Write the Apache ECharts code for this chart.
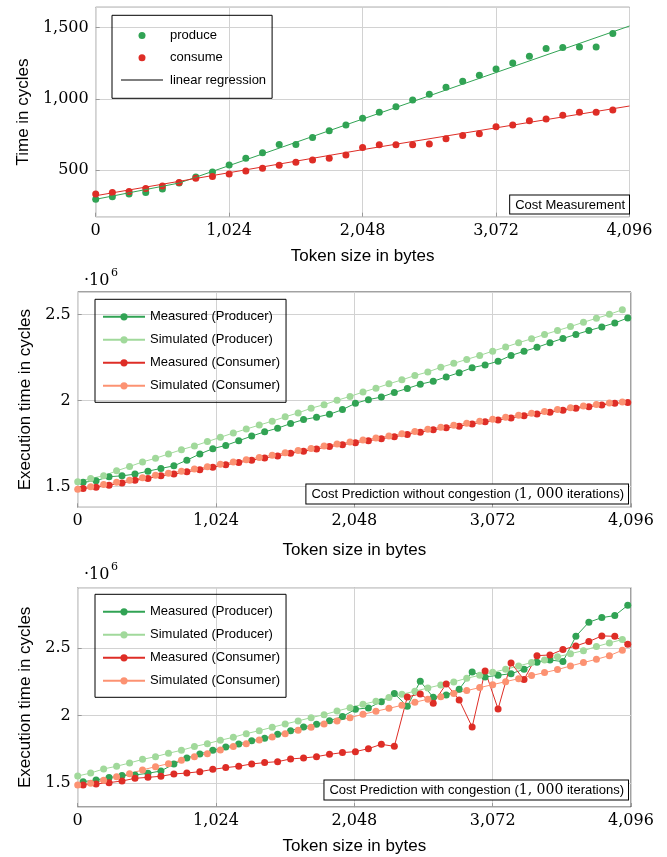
<!DOCTYPE html>
<html>
<head>
<meta charset="utf-8">
<script src="https://cdn.jsdelivr.net/npm/echarts@6/dist/echarts.min.js"></script>
<style>
html, body { margin: 0; padding: 0; background: #fff; }
#main { width: 667px; height: 857px; }
</style>
</head>
<body>
<div id="main"></div>
<script>
// panel 1: cost measurement (cycles)
var sizes1 = [0, 128, 256, 384, 512, 640, 768, 896, 1024, 1152, 1280, 1408, 1536, 1664, 1792, 1920,
    2048, 2176, 2304, 2432, 2560, 2688, 2816, 2944, 3072, 3200, 3328, 3456, 3584, 3712, 3840, 3968];
var produce = [297, 315, 334, 344, 369, 411, 453, 488, 537, 584, 624, 682, 682, 731, 778, 818,
    865, 907, 946, 993, 1033, 1082, 1124, 1166, 1210, 1252, 1299, 1355, 1362, 1364, 1364, 1460];
var consume = [334, 344, 351, 372, 390, 414, 444, 456, 474, 495, 514, 535, 556, 573, 584, 608,
    661, 680, 680, 680, 685, 722, 745, 757, 806, 818, 848, 860, 886, 907, 907, 923];
// regression lines (end points)
var regProduce = [[0, 297], [640, 411], [4096, 1512]];
var regConsume = [[0, 322], [2048, 645], [4096, 951]];

// panels 2 + 3: token sizes of simulated and measured runs
var simSizes = [0, 96, 192, 288, 384, 480, 576, 672, 768, 864, 960, 1056, 1152, 1248, 1344, 1440,
    1536, 1632, 1728, 1824, 1920, 2016, 2112, 2208, 2304, 2400, 2496, 2592, 2688, 2784, 2880, 2976,
    3072, 3168, 3264, 3360, 3456, 3552, 3648, 3744, 3840, 3936, 4032];
var measSizes = [40, 136, 232, 328, 424, 520, 616, 712, 808, 904, 1000, 1096, 1192, 1288, 1384, 1480,
    1576, 1672, 1768, 1864, 1960, 2056, 2152, 2248, 2344, 2440, 2536, 2632, 2728, 2824, 2920, 3016,
    3112, 3208, 3304, 3400, 3496, 3592, 3688, 3784, 3880, 3976, 4072];

// panel 2: without congestion (10^6 cycles)
var measProd2 = [1.525, 1.535, 1.558, 1.563, 1.573, 1.590, 1.606, 1.621, 1.654, 1.690, 1.721, 1.740, 1.767, 1.794, 1.819,
    1.840, 1.867, 1.890, 1.904, 1.921, 1.948, 1.985, 2.006, 2.021, 2.048, 2.071, 2.096, 2.113, 2.138, 2.163, 2.192,
    2.208, 2.229, 2.263, 2.287, 2.310, 2.337, 2.362, 2.385, 2.408, 2.429, 2.452, 2.481];
var simProd2 = [1.529, 1.548, 1.563, 1.592, 1.617, 1.644, 1.665, 1.690, 1.715, 1.737, 1.762, 1.787, 1.812, 1.835, 1.858,
    1.881, 1.906, 1.929, 1.956, 1.977, 2.002, 2.025, 2.050, 2.073, 2.098, 2.121, 2.146, 2.167, 2.194, 2.217, 2.240,
    2.263, 2.288, 2.312, 2.337, 2.360, 2.385, 2.408, 2.431, 2.456, 2.479, 2.502, 2.529];
var measCons2 = [1.490, 1.496, 1.508, 1.521, 1.537, 1.548, 1.563, 1.573, 1.587, 1.598, 1.613, 1.627, 1.640, 1.654, 1.667,
    1.679, 1.694, 1.706, 1.719, 1.733, 1.744, 1.756, 1.767, 1.779, 1.790, 1.804, 1.817, 1.831, 1.842, 1.852, 1.865,
    1.877, 1.888, 1.900, 1.912, 1.923, 1.933, 1.944, 1.956, 1.965, 1.975, 1.985, 1.990];
var simCons2 = [1.485, 1.500, 1.512, 1.525, 1.538, 1.552, 1.566, 1.578, 1.590, 1.602, 1.616, 1.630, 1.643, 1.657, 1.670,
    1.683, 1.697, 1.710, 1.722, 1.736, 1.748, 1.760, 1.772, 1.783, 1.795, 1.808, 1.821, 1.834, 1.846, 1.857, 1.869,
    1.881, 1.892, 1.904, 1.916, 1.927, 1.937, 1.948, 1.959, 1.969, 1.978, 1.987, 1.992];

// panel 3: with congestion (10^6 cycles)
var measProd3 = [1.512, 1.525, 1.542, 1.557, 1.562, 1.574, 1.591, 1.643, 1.687, 1.717, 1.744, 1.768, 1.791, 1.815, 1.833,
    1.862, 1.889, 1.916, 1.936, 1.963, 1.993, 2.047, 2.057, 2.103, 2.163, 2.069, 2.254, 2.135, 2.153, 2.195, 2.323,
    2.286, 2.298, 2.310, 2.342, 2.394, 2.411, 2.399, 2.586, 2.690, 2.724, 2.739, 2.815];
var simProd3 = [1.554, 1.576, 1.606, 1.626, 1.650, 1.677, 1.697, 1.722, 1.744, 1.771, 1.793, 1.818, 1.840, 1.867, 1.889,
    1.914, 1.938, 1.961, 1.985, 2.007, 2.034, 2.059, 2.084, 2.106, 2.133, 2.158, 2.180, 2.204, 2.227, 2.249, 2.276,
    2.298, 2.320, 2.342, 2.367, 2.392, 2.411, 2.434, 2.458, 2.480, 2.510, 2.537, 2.562];
var measCons3 = [1.488, 1.495, 1.505, 1.517, 1.537, 1.544, 1.552, 1.569, 1.576, 1.586, 1.603, 1.616, 1.626, 1.643, 1.653,
    1.660, 1.680, 1.687, 1.697, 1.714, 1.727, 1.734, 1.756, 1.788, 1.773, 2.138, 2.160, 2.091, 2.234, 2.116, 1.916,
    2.330, 2.049, 2.389, 2.266, 2.443, 2.448, 2.488, 2.515, 2.547, 2.589, 2.586, 2.527];
var simCons3 = [1.488, 1.500, 1.522, 1.549, 1.571, 1.599, 1.623, 1.645, 1.670, 1.697, 1.719, 1.746, 1.771, 1.793, 1.820,
    1.842, 1.867, 1.892, 1.914, 1.938, 1.961, 1.985, 2.010, 2.032, 2.054, 2.076, 2.099, 2.121, 2.140, 2.163, 2.185,
    2.207, 2.229, 2.251, 2.273, 2.296, 2.318, 2.340, 2.367, 2.392, 2.416, 2.443, 2.483];

var legendNames = ['Measured (Producer)', 'Simulated (Producer)', 'Measured (Consumer)', 'Simulated (Consumer)'];

var green = '#31a354', lightGreen = '#a1d99b', red = '#de2d26', salmon = '#fc9272';
var sans = 'Liberation Sans', serif = 'DejaVu Serif';

function zip(xs, ys) {
    return ys.map(function (y, i) { return [xs[i], y]; });
}

function xAxisFor(idx, gap) {
    return {
        type: 'value', gridIndex: idx, min: 0, max: 4096, interval: 1024,
        axisLine: { show: false },
        axisTick: { inside: true, length: 4, lineStyle: { color: '#999' } },
        splitLine: { lineStyle: { color: '#d2d2d2', width: 1 } },
        axisLabel: {
            margin: 6, color: '#000', fontFamily: serif, fontSize: 16,
            formatter: function (v) { return v.toLocaleString('en-US'); }
        },
        name: 'Token size in bytes', nameLocation: 'middle', nameGap: gap,
        nameTextStyle: { fontFamily: sans, fontSize: 17, color: '#000' }
    };
}

function yAxisFor(idx, min, max, name, gap, fmt) {
    return {
        type: 'value', gridIndex: idx, min: min, max: max, splitNumber: 3,
        axisLine: { show: false },
        axisTick: { inside: true, length: 4, lineStyle: { color: '#999' } },
        splitLine: { lineStyle: { color: '#d2d2d2', width: 1 } },
        axisLabel: {
            margin: 7, color: '#000', fontFamily: serif, fontSize: 16,
            showMinLabel: false, showMaxLabel: false, formatter: fmt
        },
        name: name, nameLocation: 'middle', nameGap: gap,
        nameTextStyle: { fontFamily: sans, fontSize: 17, color: '#000' }
    };
}

function lineSeries(name, idx, xs, ys, color) {
    return {
        name: name, type: 'line', xAxisIndex: idx, yAxisIndex: idx,
        data: zip(xs, ys), symbol: 'circle', symbolSize: 7,
        itemStyle: { color: color }, lineStyle: { color: color, width: 1 }
    };
}

function legendFor(top) {
    return {
        orient: 'vertical', left: 95, top: top, data: legendNames,
        itemWidth: 42, itemHeight: 9, itemGap: 10,
        padding: [11, 6, 10, 7], borderColor: '#000', borderWidth: 1,
        textStyle: { fontFamily: sans, fontSize: 13, color: '#000' }
    };
}

function boxText(text, right, cy) {
    return {
        type: 'text', z: 100, x: right, y: cy,
        style: {
            text: text, align: 'right', verticalAlign: 'middle',
            fontFamily: sans, fontSize: 13, fill: '#000',
            backgroundColor: '#fff', borderColor: '#000', borderWidth: 1, padding: [3, 4, 2, 5],
            rich: { m: { fontFamily: serif, fontSize: 14 } }
        }
    };
}

function powerLabel(y) {
    return [
        { type: 'text', x: 84, y: y, style: { text: '·10', fontFamily: serif, fontSize: 16, fill: '#000', verticalAlign: 'middle' } },
        { type: 'text', x: 111, y: y - 8, style: { text: '6', fontFamily: serif, fontSize: 11, fill: '#000', verticalAlign: 'middle' } }
    ];
}

var chart = echarts.init(document.getElementById('main'));
var option = {
    animation: false,
    grid: [
        { left: 95.7, top: 7.3, width: 533.8, height: 209.4, show: true, borderColor: '#444', borderWidth: 1 },
        { left: 77.7, top: 292, width: 553.3, height: 215.3, show: true, borderColor: '#444', borderWidth: 1 },
        { left: 77.7, top: 587.7, width: 553.3, height: 219.3, show: true, borderColor: '#444', borderWidth: 1 }
    ],
    xAxis: [xAxisFor(0, 31), xAxisFor(1, 35), xAxisFor(2, 31)],
    yAxis: [
        yAxisFor(0, 175, 1643, 'Time in cycles', 60, function (v) { return v.toLocaleString('en-US'); }),
        yAxisFor(1, 1.38, 2.632, 'Execution time in cycles', 44, function (v) { return String(v); }),
        yAxisFor(2, 1.325, 2.945, 'Execution time in cycles', 44, function (v) { return String(v); })
    ],
    legend: [
        {
            orient: 'vertical', left: 112, top: 15.3,
            data: [
                { name: 'produce', icon: 'circle' },
                { name: 'consume', icon: 'circle' },
                { name: 'linear regression', icon: 'path://M0,0L42,0L42,1L0,1Z' }
            ],
            itemWidth: 42, itemHeight: 7, itemGap: 9.3,
            padding: [13.6, 6, 11.8, 9], borderColor: '#000', borderWidth: 1,
            textStyle: { fontFamily: sans, fontSize: 13, color: '#000', padding: [0, 0, 0, 2] }
        },
        legendFor(299.3),
        legendFor(594.3)
    ],
    graphic: [
        boxText('Cost Measurement', 629, 204.5),
        boxText('Cost Prediction without congestion ({m|1, 000} iterations)', 628, 494),
        boxText('Cost Prediction with congestion ({m|1, 000} iterations)', 628, 790)
    ].concat(powerLabel(281), powerLabel(575)),
    series: [
        {
            name: 'fitProduce', type: 'line', xAxisIndex: 0, yAxisIndex: 0, data: regProduce,
            symbol: 'none', lineStyle: { color: green, width: 1 }, silent: true
        },
        {
            name: 'fitConsume', type: 'line', xAxisIndex: 0, yAxisIndex: 0, data: regConsume,
            symbol: 'none', lineStyle: { color: red, width: 1 }, silent: true
        },
        {
            name: 'produce', type: 'scatter', xAxisIndex: 0, yAxisIndex: 0,
            data: zip(sizes1, produce), symbolSize: 7, itemStyle: { color: green, opacity: 1 }
        },
        {
            name: 'consume', type: 'scatter', xAxisIndex: 0, yAxisIndex: 0,
            data: zip(sizes1, consume), symbolSize: 7, itemStyle: { color: red, opacity: 1 }
        },
        {
            name: 'linear regression', type: 'line', xAxisIndex: 0, yAxisIndex: 0, data: [],
            symbol: 'none', itemStyle: { color: '#000' }, lineStyle: { color: '#000', width: 1 }
        },

        lineSeries(legendNames[0], 1, measSizes, measProd2, green),
        lineSeries(legendNames[1], 1, simSizes, simProd2, lightGreen),
        lineSeries(legendNames[2], 1, measSizes, measCons2, red),
        lineSeries(legendNames[3], 1, simSizes, simCons2, salmon),

        lineSeries(legendNames[0], 2, measSizes, measProd3, green),
        lineSeries(legendNames[1], 2, simSizes, simProd3, lightGreen),
        lineSeries(legendNames[2], 2, measSizes, measCons3, red),
        lineSeries(legendNames[3], 2, simSizes, simCons3, salmon)
    ]
};
chart.setOption(option);
</script>
</body>
</html>
